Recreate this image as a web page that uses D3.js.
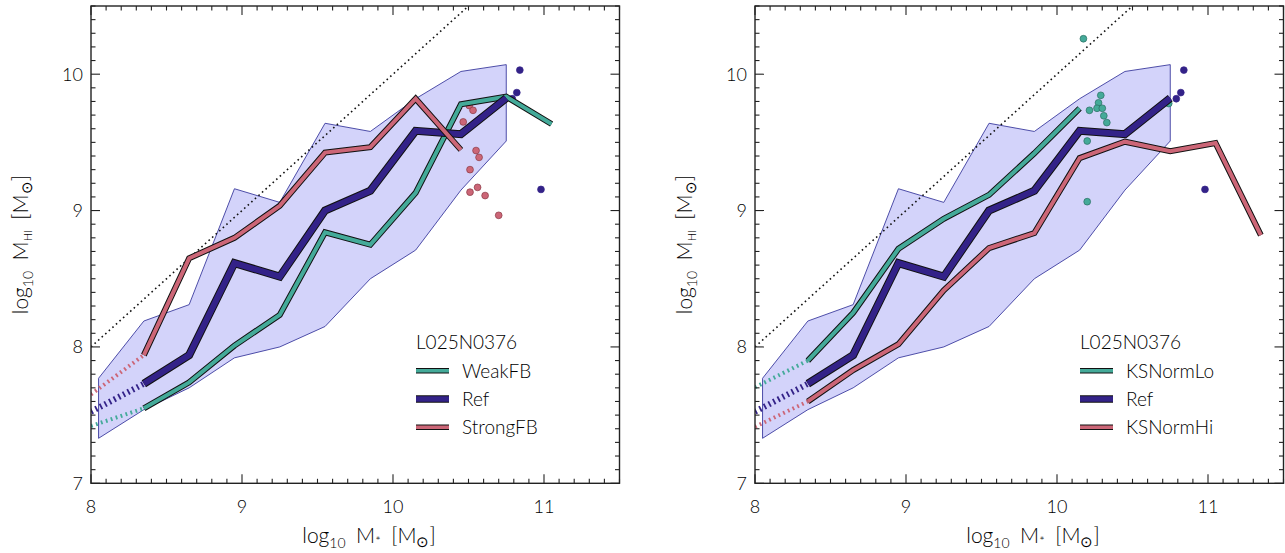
<!DOCTYPE html>
<html><head><meta charset="utf-8">
<script src="https://cdn.jsdelivr.net/npm/d3@7"></script>
<style>
body{margin:0;background:#fff}
svg text{font-family:Lato,"DejaVu Sans",sans-serif;font-weight:300;fill:#000}
</style></head>
<body><svg id="c" width="1285" height="553"></svg>
<script>
// ---- data ----
const binX = [8.05, 8.35, 8.65, 8.95, 9.25, 9.55, 9.85, 10.15, 10.45, 10.75, 11.05, 11.35];
const dottedStartX = 8.0;
const bandUpper = [7.77, 8.19, 8.31, 9.16, 9.06, 9.64, 9.58, 9.82, 10.02, 10.07];
const bandLower = [7.33, 7.54, 7.70, 7.92, 8.00, 8.15, 8.50, 8.71, 9.15, 9.51];

const refStart = 7.525;
const refVals = [7.73, 7.94, 8.615, 8.515, 9.00, 9.145, 9.585, 9.56, 9.825];
const weakStart = 7.42;
const weakVals = [7.55, 7.74, 8.01, 8.235, 8.84, 8.75, 9.13, 9.78, 9.835, 9.635];
const strongStart = 7.652;
const strongVals = [7.94, 8.65, 8.80, 9.035, 9.425, 9.465, 9.82, 9.445];
const loStart = 7.704;
const loVals = [7.90, 8.25, 8.72, 8.94, 9.115, 9.42, 9.75];
const hiStart = 7.415;
const hiVals = [7.60, 7.83, 8.02, 8.415, 8.725, 8.835, 9.385, 9.505, 9.435, 9.495, 8.82];

const refDotsX = [10.84, 10.82, 10.79, 10.98];
const refDotsY = [10.03, 9.865, 9.82, 9.155];
const strongDotsX = [10.505, 10.53, 10.465, 10.55, 10.57, 10.51, 10.56, 10.51, 10.61, 10.70];
const strongDotsY = [9.77, 9.735, 9.65, 9.44, 9.39, 9.30, 9.17, 9.135, 9.11, 8.965];
const loDotsX = [10.175, 10.29, 10.275, 10.215, 10.265, 10.30, 10.31, 10.33, 10.20, 10.20, 10.74];
const loDotsY = [10.26, 9.845, 9.79, 9.735, 9.75, 9.75, 9.695, 9.645, 9.51, 9.065, 9.785];

const xDomain = [8, 11.5];
const yDomain = [7, 10.5];
const xTickLabels = ["8", "9", "10", "11"];
const yTickLabels = ["7", "8", "9", "10"];
const legendTitle = "L025N0376";
const leftNames = ["WeakFB", "Ref", "StrongFB"];
const rightNames = ["KSNormLo", "Ref", "KSNormHi"];

const C = {teal:"#44AA99", indigo:"#332288", rose:"#CC6677"};

// ---- drawing ----
const svg = d3.select("#c");
const W = 528.5, H = 477.3, TOP = 6;

function panel(off, series, dots, names, id) {
  const x0 = 91 + off;
  const x = d3.scaleLinear().domain(xDomain).range([x0, x0 + W]);
  const y = d3.scaleLinear().domain(yDomain).range([TOP + H, TOP]);
  const g = svg.append("g");
  g.append("clipPath").attr("id", "clip" + id).append("rect")
    .attr("x", x0).attr("y", TOP).attr("width", W).attr("height", H);
  const p = g.append("g").attr("clip-path", `url(#clip${id})`);

  // band
  const bx = binX.slice(0, bandUpper.length);
  const bandPts = bx.map((v, i) => [x(v), y(bandUpper[i])])
    .concat(bx.map((v, i) => [x(v), y(bandLower[i])]).reverse());
  p.append("path").attr("d", d3.line()(bandPts) + "Z")
    .attr("fill", "#d3d3fa").attr("stroke", "#3b3b9e").attr("stroke-width", 0.9);

  // 1:1 line
  p.append("path").attr("d", d3.line()([[x(8), y(8)], [x(10.5), y(10.5)]]))
    .attr("stroke", "#111").attr("stroke-width", 1.6).attr("stroke-dasharray", "1.6,3.2").attr("fill", "none");

  // dots
  dots.forEach(d => {
    p.selectAll(null).data(d.xs).enter().append("circle")
      .attr("cx", v => x(v)).attr("cy", (v, i) => y(d.ys[i])).attr("r", 3.4)
      .attr("fill", d.color).attr("stroke", d.stroke).attr("stroke-width", 0.7);
  });

  // lines
  const line = d3.line().x(d => x(d[0])).y(d => y(d[1]));
  series.forEach(s => {
    const pts = s.vals.map((v, i) => [binX[i + 1], v]);
    p.append("path").attr("d", line([[dottedStartX, s.start], [binX[1], s.vals[0]]]))
      .attr("stroke", s.color).attr("stroke-width", s.w).attr("stroke-dasharray", "1.8,3.4").attr("fill", "none");
    p.append("path").attr("d", line(pts)).attr("fill", "none")
      .attr("stroke", "#111").attr("stroke-width", s.w + 2).attr("stroke-linejoin", "miter");
    p.append("path").attr("d", line(pts)).attr("fill", "none")
      .attr("stroke", s.color).attr("stroke-width", s.w).attr("stroke-linejoin", "miter");
  });

  // frame & ticks
  g.append("rect").attr("x", x0).attr("y", TOP).attr("width", W).attr("height", H)
    .attr("fill", "none").attr("stroke", "#222").attr("stroke-width", 1.4);
  const xt = d3.range(80, 116).map(v => v / 10);
  const yt = d3.range(70, 106).map(v => v / 10);
  const isMaj = v => Math.abs(v - Math.round(v)) < 1e-6;
  xt.forEach(v => {
    const L = isMaj(v) ? 9 : 4.5;
    g.append("line").attr("x1", x(v)).attr("x2", x(v)).attr("y1", TOP + H).attr("y2", TOP + H - L).attr("stroke", "#222").attr("stroke-width", 1.1);
    g.append("line").attr("x1", x(v)).attr("x2", x(v)).attr("y1", TOP).attr("y2", TOP + L).attr("stroke", "#222").attr("stroke-width", 1.1);
  });
  yt.forEach(v => {
    const L = isMaj(v) ? 9 : 4.5;
    g.append("line").attr("y1", y(v)).attr("y2", y(v)).attr("x1", x0).attr("x2", x0 + L).attr("stroke", "#222").attr("stroke-width", 1.1);
    g.append("line").attr("y1", y(v)).attr("y2", y(v)).attr("x1", x0 + W).attr("x2", x0 + W - L).attr("stroke", "#222").attr("stroke-width", 1.1);
  });
  xTickLabels.forEach(t => {
    g.append("text").attr("x", x(+t)).attr("y", 513).attr("text-anchor", "middle")
      .attr("font-size", 18).text(t);
  });
  yTickLabels.forEach(t => {
    g.append("text").attr("x", x0 - 8).attr("y", y(+t) + 6.5).attr("text-anchor", "end")
      .attr("font-size", 18).text(t);
  });

  // axis titles
  const xt2 = g.append("text").attr("x", x0 + 278).attr("y", 543).attr("text-anchor", "middle").attr("font-size", 21);
  xt2.append("tspan").text("log");
  xt2.append("tspan").attr("font-size", 14).attr("dy", 5).text("10");
  xt2.append("tspan").attr("dy", -5).text("\u2002M");
  xt2.append("tspan").attr("font-size", 13).attr("dy", 3).text("*");
  xt2.append("tspan").attr("dy", -3).text("\u2002[M");
  xt2.append("tspan").attr("font-size", 15).attr("dy", 4).text("\u2299");
  xt2.append("tspan").attr("dy", -4).text("]");

  const yt2 = g.append("text").attr("transform", `translate(${x0 - 63},${TOP + H / 2}) rotate(-90)`)
    .attr("text-anchor", "middle").attr("font-size", 21);
  yt2.append("tspan").text("log");
  yt2.append("tspan").attr("font-size", 14).attr("dy", 5).text("10");
  yt2.append("tspan").attr("dy", -5).text("\u2002M");
  yt2.append("tspan").attr("font-size", 11).attr("dy", 4).text("HI");
  yt2.append("tspan").attr("dy", -4).text("\u2002[M");
  yt2.append("tspan").attr("font-size", 15).attr("dy", 4).text("\u2299");
  yt2.append("tspan").attr("dy", -4).text("]");

  // legend
  const lx = 416 + off;
  g.append("text").attr("x", lx).attr("y", 348.5).attr("font-size", 19).text(legendTitle);
  series.forEach((s, i) => {
    const ly = 370.7 + i * 28.3;
    g.append("line").attr("x1", lx).attr("x2", lx + 33).attr("y1", ly).attr("y2", ly)
      .attr("stroke", "#111").attr("stroke-width", s.w + 1.6);
    g.append("line").attr("x1", lx).attr("x2", lx + 33).attr("y1", ly).attr("y2", ly)
      .attr("stroke", s.color).attr("stroke-width", s.w - 0.4);
    g.append("text").attr("x", lx + 46).attr("y", ly + 7).attr("font-size", 19).text(names[i]);
  });
}

panel(0,
  [{start: weakStart, vals: weakVals, color: C.teal, w: 4},
   {start: refStart, vals: refVals, color: C.indigo, w: 6},
   {start: strongStart, vals: strongVals, color: C.rose, w: 4}],
  [{xs: strongDotsX, ys: strongDotsY, color: C.rose, stroke: "#8a3a45"},
   {xs: refDotsX, ys: refDotsY, color: C.indigo, stroke: C.indigo}],
  leftNames, 0);

panel(664,
  [{start: loStart, vals: loVals, color: C.teal, w: 4},
   {start: refStart, vals: refVals, color: C.indigo, w: 6},
   {start: hiStart, vals: hiVals, color: C.rose, w: 4}],
  [{xs: loDotsX, ys: loDotsY, color: C.teal, stroke: "#2a6f62"},
   {xs: refDotsX, ys: refDotsY, color: C.indigo, stroke: C.indigo}],
  rightNames, 1);
</script></body></html>
